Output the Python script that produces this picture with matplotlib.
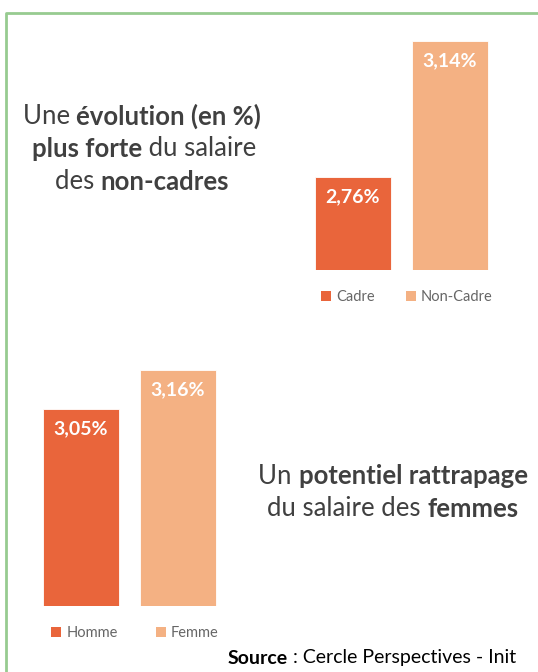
import matplotlib
matplotlib.use("Agg")
import matplotlib.pyplot as plt
from matplotlib.lines import Line2D
from matplotlib.patches import Patch

# data
cat_top = ["Cadre", "Non-Cadre"]
val_top = [2.76, 3.14]
cat_bot = ["Homme", "Femme"]
val_bot = [3.05, 3.16]
colors = ["#E9653B", "#F4B183"]

W, H = 538, 672
fig = plt.figure(figsize=(W / 100, H / 100), dpi=100)
plt.rcParams['font.family'] = ['Lato', 'DejaVu Sans']


def px_axes(x0, y0, x1, y1):
    # pixel box (top-left origin) -> axes
    return fig.add_axes([x0 / W, 1 - y1 / H, (x1 - x0) / W, (y1 - y0) / H])


def bar_panel(ax, cats, vals):
    bars = ax.bar(range(len(cats)), vals, width=0.78, color=colors,
                  edgecolor="white", linewidth=0.6)
    ax.set_xlim(-0.5, 1.5)
    ax.set_ylim(2.5, 3.2)
    ax.axis("off")
    for b, v in zip(bars, vals):
        ax.annotate(f"{v:.2f}%".replace(".", ","),
                    (b.get_x() + b.get_width() / 2, v),
                    xytext=(0, -20), textcoords="offset pixels",
                    ha="center", va="center", color="white",
                    fontsize=14, fontweight="bold")
    return bars


ax1 = px_axes(304.5, 19.5, 498.5, 270)
bars1 = bar_panel(ax1, cat_top, val_top)
ax2 = px_axes(32.5, 355.5, 226.5, 606)
bars2 = bar_panel(ax2, cat_bot, val_bot)


def legend(cats, cx, cy, spacing):
    handles = [Patch(facecolor=c, edgecolor="none") for c in colors]
    fig.legend(handles, cats, loc="center", bbox_to_anchor=(cx / W, 1 - cy / H),
               ncol=2, frameon=False, fontsize=10.5, handlelength=0.7,
               handleheight=0.7, handletextpad=0.35, columnspacing=spacing,
               labelcolor="#666666")


legend(cat_top, 407, 297, 2.1)
legend(cat_bot, 135, 633, 2.6)

# rich text lines: list of (text, bold)
fig.canvas.draw()
renderer = fig.canvas.get_renderer()


def rich_line(segments, cx, cy, size, color):
    texts = []
    for s, bold in segments:
        t = fig.text(0, 1 - cy / H, s, fontsize=size, color=color,
                     fontweight="bold" if bold else "normal",
                     va="center", ha="left")
        texts.append(t)
    widths = [t.get_window_extent(renderer).width for t in texts]
    x = cx - sum(widths) / 2
    for t, w in zip(texts, widths):
        t.set_x(x / W)
        x += w


gray = "#404040"
rich_line([("Une ", False), ("évolution (en %)", True)], 142, 116, 18.5, gray)
rich_line([("plus forte", True), (" du salaire", False)], 144, 149, 18.5, gray)
rich_line([("des ", False), ("non-cadres", True)], 142, 182, 18.5, gray)
rich_line([("Un ", False), ("potentiel rattrapage", True)], 393, 476, 18.5, gray)
rich_line([("du salaire des ", False), ("femmes", True)], 393, 509, 18.5, gray)
rich_line([("Source", True), (" : Cercle Perspectives - Init", False)], 372, 658, 14, "black")

# green frame
bc = "#97CB90"
fig.add_artist(Line2D([5.5 / W, 5.5 / W, 1], [0, 1 - 12.5 / H, 1 - 12.5 / H],
                      transform=fig.transFigure, color=bc, linewidth=2))

fig.savefig("out.png", dpi=100)
